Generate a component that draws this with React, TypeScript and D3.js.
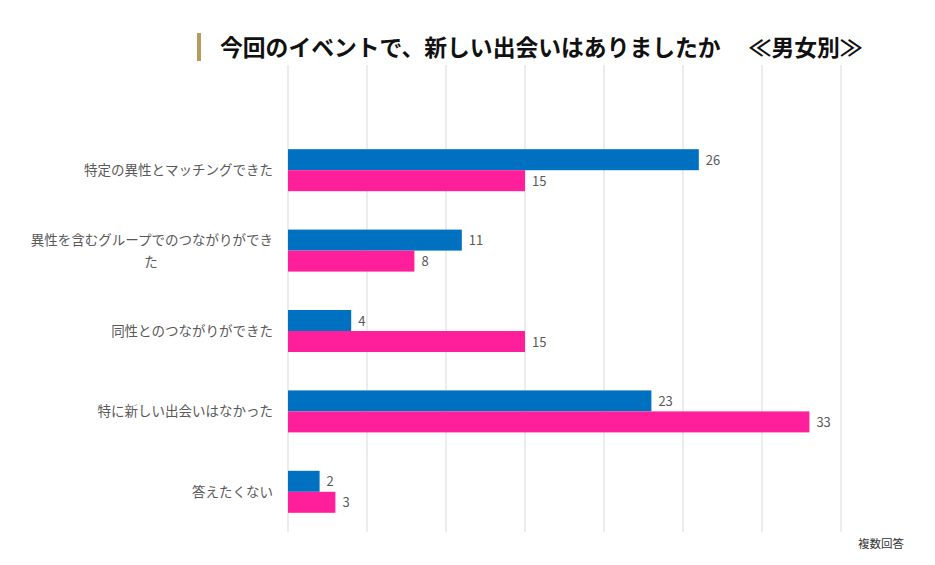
import * as d3 from "d3";

const categories = [
  "特定の異性とマッチングできた",
  "異性を含むグループでのつながりができた",
  "同性とのつながりができた",
  "特に新しい出会いはなかった",
  "答えたくない",
];
const labelLines = [
  ["特定の異性とマッチングできた"],
  ["異性を含むグループでのつながりができ", "た"],
  ["同性とのつながりができた"],
  ["特に新しい出会いはなかった"],
  ["答えたくない"],
];
const series = ["男性", "女性"];
const maleValues = [26, 11, 4, 23, 2];
const femaleValues = [15, 8, 15, 33, 3];
const xTicks = [0, 5, 10, 15, 20, 25, 30, 35];
const colors = ["#0070c0", "#ff1f9a"];

const font = "'Noto Sans CJK JP', 'Noto Sans', sans-serif";

export default function App() {
  const width = 935;
  const height = 565;

  const x = d3.scaleLinear().domain([0, 35]).range([288, 841]);
  const y = d3.scaleBand().domain(categories).range([130, 532]);
  const inner = d3.scaleBand().domain(series).range([0, 42]);
  const innerOffset = (y.bandwidth() - 42) / 2;

  const values = [maleValues, femaleValues];

  return (
    <svg width={width} height={height}
         style={{position: "absolute", left: 0, top: 0, background: "#fff"}}>
      {/* title */}
      <rect x={197} y={33} width={4} height={28} fill="#b89a5e"/>
      <text x={220} y={56} fontFamily={font} fontSize={22.8} fontWeight="bold"
            fill="#111" style={{whiteSpace: "pre"}}>
        {"今回のイベントで、新しい出会いはありましたか\u3000 ≪男女別≫"}
      </text>

      {/* grid */}
      {xTicks.map(t => (
        <line key={t} x1={x(t)} x2={x(t)} y1={65} y2={532}
              stroke="#d9d9d9" strokeWidth={1}/>
      ))}

      {/* bars */}
      {categories.map((c, i) => (
        <g key={c} transform={`translate(0,${(y(c) ?? 0) + innerOffset})`}>
          {series.map((s, j) => {
            const v = values[j][i];
            const by = inner(s) ?? 0;
            return (
              <g key={s}>
                <rect x={x(0)} y={by} width={x(v) - x(0)} height={inner.bandwidth()}
                      fill={colors[j]}/>
                <text x={x(v) + 7} y={by + inner.bandwidth() / 2 + 5}
                      fontFamily={font} fontSize={13} fill="#595959">{v}</text>
              </g>
            );
          })}
        </g>
      ))}

      {/* category labels */}
      {categories.map((c, i) => {
        const cy = (y(c) ?? 0) + y.bandwidth() / 2;
        const lines = labelLines[i];
        if (lines.length === 1) {
          return (
            <text key={c} x={273} y={cy + 5} textAnchor="end"
                  fontFamily={font} fontSize={13.5} fill="#595959">{lines[0]}</text>
          );
        }
        return (
          <g key={c}>
            <text x={273} y={cy - 6} textAnchor="end"
                  fontFamily={font} fontSize={13.5} fill="#595959">{lines[0]}</text>
            <text x={151} y={cy + 16} textAnchor="middle"
                  fontFamily={font} fontSize={13.5} fill="#595959">{lines[1]}</text>
          </g>
        );
      })}

      <text x={904} y={548} textAnchor="end" fontFamily={font} fontSize={11.5}
            fill="#333">複数回答</text>
    </svg>
  );
}
